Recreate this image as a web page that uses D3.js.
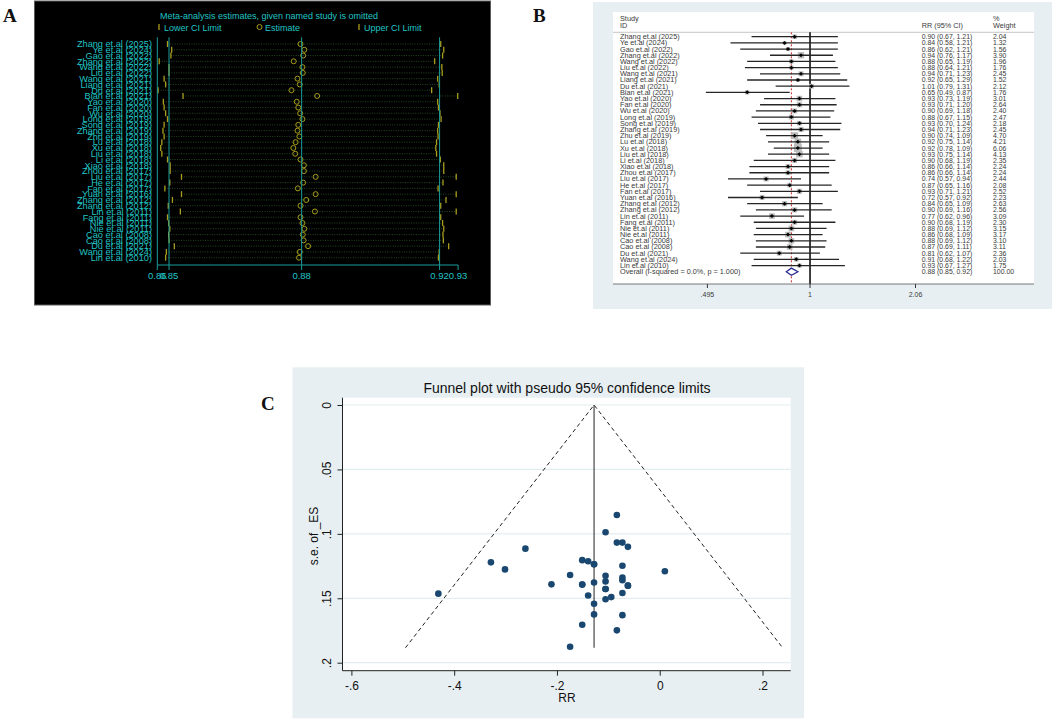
<!DOCTYPE html>
<html>
<head>
<meta charset="utf-8">
<script src="https://cdn.jsdelivr.net/npm/d3@7"></script>
<style>
  body { margin: 0; background: #fff; }
  svg { display: block; font-family: "Liberation Sans", Arial, sans-serif; }
</style>
</head>
<body>
<svg id="fig"></svg>
<script>
// ---- data ----
const studies = ["Zhang et.al (2025)","Ye et.al (2024)","Gao et.al (2022)","Zhang et.al (2022)","Wang et.al (2022)",
  "Liu et.al (2022)","Wang et.al (2021)","Liang et.al (2021)","Du et.al (2021)","Bian et.al (2021)",
  "Yao et.al (2020)","Fan et.al (2020)","Wu et.al (2020)","Long et.al (2019)","Song et.al (2019)",
  "Zhang et.al (2019)","Zhu et.al (2019)","Lu et.al (2018)","Xu et.al (2018)","Liu et.al (2018)",
  "Li et.al (2018)","Xiao et.al (2018)","Zhou et.al (2017)","Liu et.al (2017)","He et.al (2017)",
  "Fan et.al (2017)","Yuan et.al (2016)","Zhang et.al (2012)","Zhang et.al (2012)","Lin et.al (2011)",
  "Fang et.al (2011)","Nie et.al (2011)","Nie et.al (2011)","Cao et.al (2008)","Cao et.al (2008)",
  "Du et.al (2021)","Wang et.al (2024)","Lin et.al (2010)"];

// panel B: forest plot
const rr   = [0.90,0.84,0.86,0.94,0.88,0.88,0.94,0.92,1.01,0.65,0.93,0.93,0.90,0.88,0.93,0.94,0.90,0.92,0.92,0.93,0.90,0.86,0.86,0.74,0.87,0.93,0.72,0.84,0.90,0.77,0.90,0.88,0.86,0.88,0.87,0.81,0.91,0.93];
const rrLo = [0.67,0.58,0.62,0.76,0.65,0.64,0.71,0.65,0.79,0.49,0.73,0.71,0.69,0.67,0.70,0.71,0.74,0.75,0.78,0.75,0.68,0.66,0.66,0.57,0.65,0.71,0.57,0.65,0.69,0.62,0.68,0.69,0.68,0.69,0.69,0.62,0.68,0.67];
const rrHi = [1.21,1.21,1.21,1.17,1.19,1.21,1.23,1.29,1.31,0.87,1.19,1.20,1.18,1.15,1.24,1.23,1.09,1.14,1.09,1.14,1.19,1.14,1.14,0.94,1.16,1.21,0.92,1.09,1.16,0.96,1.19,1.12,1.09,1.12,1.11,1.07,1.22,1.27];
const weights = [2.04,1.32,1.56,3.90,1.96,1.76,2.45,1.52,2.12,1.76,3.01,2.64,2.40,2.47,2.18,2.45,4.70,4.21,6.06,4.13,2.35,2.24,2.24,2.44,2.08,2.52,2.23,2.63,2.56,3.09,2.30,3.15,3.17,3.10,3.11,2.36,2.03,1.75];
const overallLabel = "Overall  (I-squared = 0.0%, p = 1.000)";
const overallRR = [0.88, 0.85, 0.92];
const overallWeight = 100.00;
const bTicks = [0.495, 1, 2.06];
const bTickLabels = [".495", "1", "2.06"];

// panel A: leave-one-out
const omitLo  = [0.8471,0.8482,0.8480,0.8449,0.8475,0.8475,0.8462,0.8466,0.8446,0.8512,0.8460,0.8462,0.8466,0.8471,0.8462,0.8459,0.8462,0.8456,0.8453,0.8456,0.8471,0.8478,0.8478,0.8508,0.8477,0.8464,0.8508,0.8484,0.8473,0.8505,0.8471,0.8474,0.8477,0.8474,0.8475,0.8489,0.8468,0.8466];
const omitEst = [0.8823,0.8833,0.8830,0.8805,0.8828,0.8829,0.8815,0.8821,0.8799,0.8867,0.8813,0.8817,0.8822,0.8828,0.8817,0.8815,0.8820,0.8810,0.8804,0.8809,0.8823,0.8832,0.8832,0.8863,0.8830,0.8816,0.8863,0.8838,0.8823,0.8861,0.8823,0.8828,0.8833,0.8829,0.8831,0.8843,0.8821,0.8819];
const omitHi  = [0.9194,0.9202,0.9199,0.9178,0.9197,0.9198,0.9186,0.9190,0.9170,0.9239,0.9186,0.9188,0.9192,0.9195,0.9188,0.9186,0.9187,0.9183,0.9181,0.9183,0.9193,0.9202,0.9202,0.9235,0.9200,0.9187,0.9235,0.9208,0.9194,0.9235,0.9194,0.9199,0.9202,0.9200,0.9201,0.9215,0.9190,0.9188];
const aRefLines = [0.8475, 0.8826, 0.9191];
const aTicks = [0.8444, 0.8475, 0.8826, 0.9191, 0.9240];
const aTickLabels = ["0.86", "0.85", "0.88", "0.92", "0.93"];

// panel C: funnel plot (log RR vs s.e.)
const funnelX  = [-0.1054,-0.1744,-0.1508,-0.0619,-0.1278,-0.1278,-0.0619,-0.0834,0.0100,-0.4308,-0.0726,-0.0726,-0.1054,-0.1278,-0.0726,-0.0619,-0.1054,-0.0834,-0.0834,-0.0726,-0.1054,-0.1508,-0.1508,-0.3011,-0.1393,-0.0726,-0.3285,-0.1744,-0.1054,-0.2614,-0.1054,-0.1278,-0.1508,-0.1278,-0.1393,-0.2107,-0.0943,-0.0726];
const funnelSE = [0.1508,0.1876,0.1706,0.1101,0.1543,0.1625,0.1402,0.1749,0.1290,0.1464,0.1247,0.1339,0.1369,0.1378,0.1459,0.1402,0.0988,0.1068,0.0854,0.1068,0.1428,0.1394,0.1394,0.1276,0.1478,0.1360,0.1221,0.1319,0.1325,0.1115,0.1428,0.1236,0.1204,0.1236,0.1213,0.1392,0.1491,0.1631];
const pooledLogRR = -0.1278;
const funnelEdges = [[-0.4948, 0.1884], [-0.1278, 0], [0.2392, 0.1884]];
const cXTicks = [-0.6, -0.4, -0.2, 0, 0.2];
const cXTickLabels = ["-.6", "-.4", "-.2", "0", ".2"];
const cYTicks = [0, 0.05, 0.1, 0.15, 0.2];
const cYTickLabels = ["0", ".05", ".1", ".15", ".2"];

const svg = d3.select("#fig").attr("width", 1052).attr("height", 720);
svg.append("rect").attr("width", 1052).attr("height", 720).attr("fill", "#fff");

// panel letters
[["A", 3, 22], ["B", 533, 22], ["C", 261, 410]].forEach(([t, x, y]) => {
  svg.append("text").attr("x", x).attr("y", y).text(t)
    .style("font-family", "'Liberation Serif', 'Times New Roman', serif")
    .style("font-weight", "bold").style("font-size", "19px").attr("fill", "#111");
});

// ================= Panel A =================
const cyan = "#21c4c4", teal = "#1b9b9b", olive = "#a99d1e";
const gA = svg.append("g");
gA.append("rect").attr("x", 34.5).attr("y", 1).attr("width", 456).attr("height", 304)
  .attr("fill", "#000").attr("stroke", "#5a5a5a");

const ax = d3.scaleLinear().domain([0.8444, 0.9240]).range([157.3, 458.1]);
const ay = d3.scalePoint().domain(d3.range(studies.length)).range([44, 257.7]);

gA.append("text").attr("x", 160).attr("y", 18.5).attr("fill", cyan)
  .style("font-size", "9px").text("Meta-analysis estimates, given named study is omitted");

// legend
gA.append("line").attr("x1", 159).attr("x2", 159).attr("y1", 24).attr("y2", 30).attr("stroke", olive).attr("stroke-width", 1.3);
gA.append("text").attr("x", 164).attr("y", 30.5).attr("fill", cyan).style("font-size", "9px").text("Lower CI Limit");
gA.append("circle").attr("cx", 259.5).attr("cy", 27).attr("r", 2.5).attr("fill", "none").attr("stroke", olive);
gA.append("text").attr("x", 265).attr("y", 30.5).attr("fill", cyan).style("font-size", "9px").text("Estimate");
gA.append("line").attr("x1", 359).attr("x2", 359).attr("y1", 24).attr("y2", 30).attr("stroke", olive).attr("stroke-width", 1.3);
gA.append("text").attr("x", 364).attr("y", 30.5).attr("fill", cyan).style("font-size", "9px").text("Upper CI Limit");

// rows
const rowsA = gA.selectAll("g.row").data(studies).join("g").attr("class", "row");
rowsA.append("line")
  .attr("x1", (d, i) => ax(omitLo[i])).attr("x2", (d, i) => ax(omitHi[i]))
  .attr("y1", (d, i) => ay(i)).attr("y2", (d, i) => ay(i))
  .attr("stroke", "#2e5a2a").attr("stroke-width", 0.8).attr("stroke-dasharray", "1,1.4");

// reference lines + axes
aRefLines.forEach(v => {
  gA.append("line").attr("x1", ax(v)).attr("x2", ax(v)).attr("y1", 37.3).attr("y2", 265)
    .attr("stroke", teal).attr("stroke-width", 1);
});
gA.append("line").attr("x1", ax(aTicks[0])).attr("x2", ax(aTicks[0])).attr("y1", 37.3).attr("y2", 265)
  .attr("stroke", teal).attr("stroke-width", 1);
gA.append("line").attr("x1", ax(aTicks[0])).attr("x2", ax(aTicks[aTicks.length - 1])).attr("y1", 265).attr("y2", 265)
  .attr("stroke", teal).attr("stroke-width", 1);
aTicks.forEach((v, i) => {
  gA.append("line").attr("x1", ax(v)).attr("x2", ax(v)).attr("y1", 265).attr("y2", 270)
    .attr("stroke", teal).attr("stroke-width", 1);
  gA.append("text").attr("x", ax(v)).attr("y", 279).attr("text-anchor", "middle")
    .attr("fill", cyan).style("font-size", "9.5px").text(aTickLabels[i]);
});

rowsA.append("line")
  .attr("x1", (d, i) => ax(omitLo[i])).attr("x2", (d, i) => ax(omitLo[i]))
  .attr("y1", (d, i) => ay(i) - 3).attr("y2", (d, i) => ay(i) + 3)
  .attr("stroke", olive).attr("stroke-width", 1.3);
rowsA.append("line")
  .attr("x1", (d, i) => ax(omitHi[i])).attr("x2", (d, i) => ax(omitHi[i]))
  .attr("y1", (d, i) => ay(i) - 3).attr("y2", (d, i) => ay(i) + 3)
  .attr("stroke", olive).attr("stroke-width", 1.3);
rowsA.append("circle")
  .attr("cx", (d, i) => ax(omitEst[i])).attr("cy", (d, i) => ay(i)).attr("r", 2.5)
  .attr("fill", "none").attr("stroke", olive).attr("stroke-width", 1);
rowsA.append("text")
  .attr("x", 152).attr("y", (d, i) => ay(i) + 3.3).attr("text-anchor", "end")
  .attr("fill", cyan).style("font-size", "9.2px").text(d => d);

// ================= Panel B =================
const gB = svg.append("g");
gB.append("rect").attr("x", 593).attr("y", 2).attr("width", 459).attr("height", 307).attr("fill", "#e7eff2");
gB.append("rect").attr("x", 613).attr("y", 12).attr("width", 421).attr("height", 272).attr("fill", "#fff");

const bx = d3.scaleLog().domain([0.495, 2.06]).range([707.4, 915.5]);
const by = i => 36.7 + i * 6.185;
const txt = "#3a3a3a", fs = "7.3px";
const f2 = d3.format(".2f");

gB.append("text").attr("x", 620).attr("y", 20.5).attr("fill", txt).style("font-size", fs).text("Study");
gB.append("text").attr("x", 620).attr("y", 28).attr("fill", txt).style("font-size", fs).text("ID");
gB.append("text").attr("x", 921.7).attr("y", 28).attr("fill", txt).style("font-size", fs).text("RR (95% CI)");
gB.append("text").attr("x", 993).attr("y", 20.5).attr("fill", txt).style("font-size", fs).text("%");
gB.append("text").attr("x", 993).attr("y", 28).attr("fill", txt).style("font-size", fs).text("Weight");
gB.append("line").attr("x1", 613).attr("x2", 1034).attr("y1", 32.3).attr("y2", 32.3).attr("stroke", "#b8b8b8").attr("stroke-width", 0.8);

// null line & overall line
gB.append("line").attr("x1", bx(1)).attr("x2", bx(1)).attr("y1", 32.3).attr("y2", 284).attr("stroke", "#000").attr("stroke-width", 1.5);
gB.append("line").attr("x1", bx(overallRR[0])).attr("x2", bx(overallRR[0])).attr("y1", 32.3).attr("y2", 284)
  .attr("stroke", "#c62828").attr("stroke-width", 1).attr("stroke-dasharray", "2,2");

const rowsB = gB.selectAll("g.row").data(studies).join("g").attr("class", "row");
rowsB.append("rect")
  .attr("x", (d, i) => bx(rr[i]) - 1.6 * Math.sqrt(weights[i]))
  .attr("y", (d, i) => by(i) - 1.6 * Math.sqrt(weights[i]))
  .attr("width", (d, i) => 3.2 * Math.sqrt(weights[i]))
  .attr("height", (d, i) => 3.2 * Math.sqrt(weights[i]))
  .attr("fill", "#bdbdbd");
rowsB.append("line")
  .attr("x1", (d, i) => bx(rrLo[i])).attr("x2", (d, i) => bx(rrHi[i]))
  .attr("y1", (d, i) => by(i)).attr("y2", (d, i) => by(i))
  .attr("stroke", "#262626").attr("stroke-width", 1.3);
rowsB.append("path")
  .attr("d", (d, i) => `M${bx(rr[i]) - 2},${by(i)}L${bx(rr[i])},${by(i) - 2}L${bx(rr[i]) + 2},${by(i)}L${bx(rr[i])},${by(i) + 2}Z`)
  .attr("fill", "#000");
rowsB.append("text").attr("x", 620).attr("y", (d, i) => by(i) + 2.5)
  .attr("fill", txt).style("font-size", fs).text(d => d);
rowsB.append("text").attr("x", 921.7).attr("y", (d, i) => by(i) + 2.5)
  .attr("fill", txt).style("font-size", "6.9px")
  .text((d, i) => `${f2(rr[i])} (${f2(rrLo[i])}, ${f2(rrHi[i])})`);
rowsB.append("text").attr("x", 993).attr("y", (d, i) => by(i) + 2.5)
  .attr("fill", txt).style("font-size", "6.9px").text((d, i) => f2(weights[i]));

// overall row
const yo = by(studies.length);
gB.append("path")
  .attr("d", `M${bx(overallRR[1])},${yo}L${bx(overallRR[0])},${yo - 3.6}L${bx(overallRR[2])},${yo}L${bx(overallRR[0])},${yo + 3.6}Z`)
  .attr("fill", "#fff").attr("stroke", "#2c2c90").attr("stroke-width", 1.3);
gB.append("text").attr("x", 620).attr("y", yo + 2.5).attr("fill", txt).style("font-size", fs).text(overallLabel);
gB.append("text").attr("x", 921.7).attr("y", yo + 2.5).attr("fill", txt).style("font-size", "6.9px")
  .text(`${f2(overallRR[0])} (${f2(overallRR[1])}, ${f2(overallRR[2])})`);
gB.append("text").attr("x", 993).attr("y", yo + 2.5).attr("fill", txt).style("font-size", "6.9px").text(f2(overallWeight));

// x axis
gB.append("line").attr("x1", 613).attr("x2", 1034).attr("y1", 284).attr("y2", 284).attr("stroke", "#555").attr("stroke-width", 0.8);
bTicks.forEach((v, i) => {
  gB.append("line").attr("x1", bx(v)).attr("x2", bx(v)).attr("y1", 284).attr("y2", 288).attr("stroke", "#333");
  gB.append("text").attr("x", bx(v)).attr("y", 297).attr("text-anchor", "middle")
    .attr("fill", txt).style("font-size", "7px").text(bTickLabels[i]);
});

// ================= Panel C =================
const gC = svg.append("g");
gC.append("rect").attr("x", 292.5).attr("y", 367.3).attr("width", 511.5).attr("height", 351).attr("fill", "#e7eff2");
gC.append("rect").attr("x", 342.5).attr("y", 397.7).attr("width", 448.2).attr("height", 273).attr("fill", "#fff");

const cx = d3.scaleLinear().domain([-0.6, 0.2]).range([351.4, 762.5]);
const cy = d3.scaleLinear().domain([0, 0.2]).range([405, 662.7]);

cYTicks.forEach(v => {
  gC.append("line").attr("x1", 342.5).attr("x2", 790.7).attr("y1", cy(v)).attr("y2", cy(v))
    .attr("stroke", "#e3edf0").attr("stroke-width", 1.2);
});

gC.append("text").attr("x", 567).attr("y", 393).attr("text-anchor", "middle")
  .attr("fill", "#111").style("font-size", "14px").text("Funnel plot with pseudo 95% confidence limits");

// funnel + pooled line
gC.append("path").datum(funnelEdges)
  .attr("d", d3.line().x(d => cx(d[0])).y(d => cy(d[1])))
  .attr("fill", "none").attr("stroke", "#222").attr("stroke-width", 1).attr("stroke-dasharray", "4,3");
gC.append("line").attr("x1", cx(pooledLogRR)).attr("x2", cx(pooledLogRR))
  .attr("y1", cy(0)).attr("y2", cy(funnelEdges[0][1])).attr("stroke", "#222").attr("stroke-width", 1);

gC.selectAll("circle.pt").data(funnelX).join("circle").attr("class", "pt")
  .attr("cx", d => cx(d)).attr("cy", (d, i) => cy(funnelSE[i])).attr("r", 3.3)
  .attr("fill", "#1a476f");

// axes
const yAxis = gC.append("g").attr("transform", "translate(342.5,0)")
  .call(d3.axisLeft(cy).tickValues(cYTicks).tickFormat((d, i) => cYTickLabels[i]).tickSize(5).tickSizeOuter(0));
yAxis.select(".domain").attr("d", "M0,397.7V670.7").attr("stroke", "#222");
yAxis.selectAll(".tick line").attr("stroke", "#222");
yAxis.selectAll("text").attr("x", null).attr("dy", null).attr("text-anchor", "middle")
  .attr("transform", "translate(-11.5,0) rotate(-90)")
  .attr("fill", "#111").style("font-size", "12px").style("font-family", "'Liberation Sans', Arial, sans-serif");

const xAxis = gC.append("g").attr("transform", "translate(0,670.7)")
  .call(d3.axisBottom(cx).tickValues(cXTicks).tickFormat((d, i) => cXTickLabels[i]).tickSize(5).tickPadding(6).tickSizeOuter(0));
xAxis.select(".domain").attr("d", "M342.5,0H790.7").attr("stroke", "#222");
xAxis.selectAll(".tick line").attr("stroke", "#222");
xAxis.selectAll("text").attr("fill", "#111").style("font-size", "12px").style("font-family", "'Liberation Sans', Arial, sans-serif");

gC.append("text").attr("x", 567).attr("y", 702).attr("text-anchor", "middle")
  .attr("fill", "#111").style("font-size", "12px").text("RR");
gC.append("text").attr("transform", "translate(318,536) rotate(-90)").attr("text-anchor", "middle")
  .attr("fill", "#111").style("font-size", "12px").text("s.e. of _ES");
</script>
</body>
</html>
